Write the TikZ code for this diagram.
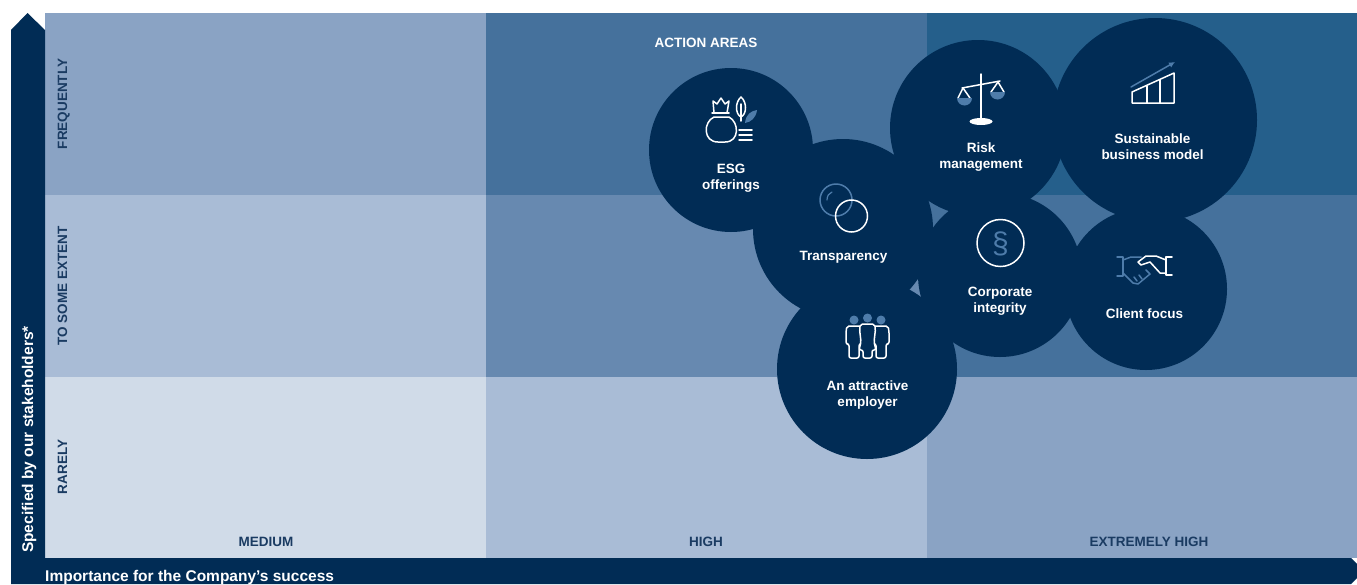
\documentclass[tikz,border=0pt]{standalone}
\usepackage{fontspec}
\usetikzlibrary{arrows.meta}
\setmainfont{Liberation Sans}
\definecolor{navy}{HTML}{012C55}
\definecolor{lblnavy}{HTML}{1A3B62}
\definecolor{accent}{HTML}{4E7CAA}
\definecolor{cA}{HTML}{8AA3C4}
\definecolor{cB}{HTML}{45719C}
\definecolor{cC}{HTML}{255F8B}
\definecolor{cD}{HTML}{A9BCD6}
\definecolor{cE}{HTML}{6789B0}
\definecolor{cF}{HTML}{D0DBE8}
\newcommand\mytwo[2]{\begin{tabular}[t]{@{}c@{}}#1\\#2\end{tabular}}
\begin{document}
\begin{tikzpicture}[x=1pt,y=-1pt,
  bub/.style={circle, fill=navy, draw=none, inner sep=0pt},
  ctext/.style={text=white, font=\fontsize{13.5}{16}\selectfont\bfseries, inner sep=0pt, anchor=base},
  axlbl/.style={text=lblnavy, font=\fontsize{13.5}{16}\selectfont\bfseries, inner sep=0pt, anchor=base},
  axtitle/.style={text=white, font=\fontsize{15.5}{18}\selectfont\bfseries, inner sep=0pt},
  icon/.style={draw=white, line width=1.5pt, line cap=round, line join=round},
  accicon/.style={draw=accent, line width=1.5pt, line cap=round, line join=round}]
\useasboundingbox (0,0) rectangle (1357,584);
\clip (0,0) rectangle (1357,584);
\fill[white] (0,0) rectangle (1357,584);
% grid cells
\fill[cA] (45,13) rectangle (486,195);
\fill[cB] (486,13) rectangle (927,195);
\fill[cC] (927,13) rectangle (1357,195);
\fill[cD] (45,195) rectangle (486,377);
\fill[cE] (486,195) rectangle (927,377);
\fill[cB] (927,195) rectangle (1357,377);
\fill[cF] (45,377) rectangle (486,558);
\fill[cD] (486,377) rectangle (927,558);
\fill[cA] (927,377) rectangle (1357,558);
% axes
\fill[navy] (11,30) -- (27.5,13) -- (45,30) -- (45,558) -- (1351,558) -- (1364,571) -- (1351,584) -- (11,584) -- cycle;
\node[axtitle, rotate=90, anchor=base west] (ytitle) at (33,553) {Specified by our stakeholders*};
\node[axtitle, anchor=base west] (xtitle) at (45,581) {Importance for the Company’s success};
% row / column labels
\node[axlbl, rotate=90] (lfreq) at (67,104) {FREQUENTLY};
\node[axlbl, rotate=90] (lsome) at (67,286) {TO SOME EXTENT};
\node[axlbl, rotate=90] (lrare) at (67,467) {RARELY};
\node[axlbl] (lmed) at (266,546) {MEDIUM};
\node[axlbl] (lhigh) at (706,546) {HIGH};
\node[axlbl] (lext) at (1149,546) {EXTREMELY HIGH};
\node[ctext] (action) at (706,47) {ACTION AREAS};
% bubbles
\node[bub, minimum size=164pt] (esg) at (731,150) {};
\node[bub, minimum size=180pt] (transp) at (843,229) {};
\node[bub, minimum size=180pt] (employer) at (867,369) {};
\node[bub, minimum size=176pt] (risk) at (978,128) {};
\node[bub, minimum size=204pt] (sust) at (1155,120) {};
\node[bub, minimum size=164pt] (corp) at (1000,275) {};
\node[bub, minimum size=162pt] (client) at (1146,289) {};
% bubble texts
\node[ctext] (tesg) at (731,173) {\mytwo{ESG}{offerings}};
\node[ctext] (ttransp) at (843.5,260) {Transparency};
\node[ctext] (trisk) at (981,152) {\mytwo{Risk}{management}};
\node[ctext] (tsust) at (1152.5,143) {\mytwo{Sustainable}{business model}};
\node[ctext] (tcorp) at (1000,296) {\mytwo{Corporate}{integrity}};
\node[ctext] (tclient) at (1144.5,318) {Client focus};
\node[ctext] (temp) at (867.5,390) {\mytwo{An attractive}{employer}};
% ESG icon
\draw[icon] (712,113) -- (729,113);
\draw[icon] (714,113) -- (713,101) -- (717,104) -- (721,98) -- (725,104) -- (729,101) -- (727,113);
\draw[icon] (714,117) .. controls (703,122) and (703,142) .. (718,142) -- (725,142) .. controls (740,142) and (739,122) .. (729,117) -- cycle;
\draw[icon] (741,97) .. controls (735,102) and (735,114) .. (741,117) .. controls (747,114) and (747,102) .. (741,97);
\draw[icon] (741,104) -- (741,121);
\fill[accent] (745,123) .. controls (746,114) and (751,111) .. (757,110) .. controls (756,118) and (751,122) .. (745,123) -- cycle;
\draw[icon] (739,130) -- (752,130);
\draw[icon] (739,135) -- (752,135);
\draw[icon] (739,140) -- (752,140);
% Transparency icon
\draw[accicon] (836,200) circle (16);
\draw[accicon, line width=1.2pt] (827,200) .. controls (827,196) and (829,193) .. (832,192);
\draw[icon] (851.5,216) circle (16);
% Risk icon
\draw[icon] (981,74) -- (981,119);
\draw[icon] (962,88) -- (1000,81);
\draw[icon] (958,98) -- (963,88) -- (970,98);
\draw[icon] (991,92) -- (998,82) -- (1004,92);
\fill[accent] (957,98) -- (972,98) arc[start angle=0, end angle=180, radius=7.5] -- cycle;
\fill[accent] (990,92) -- (1005,92) arc[start angle=0, end angle=180, radius=7.5] -- cycle;
\fill[white] (981,121.5) ellipse[x radius=11.5, y radius=3.5];
% Sustainable icon
\draw[icon] (1132,103) -- (1132,92) -- (1174,73) -- (1174,103) -- cycle;
\draw[icon] (1147,86) -- (1147,103);
\draw[icon] (1160,80) -- (1160,103);
\draw[accicon, -{Latex[length=6pt,width=6pt]}] (1131,87) -- (1175,62);
% Corporate icon
\draw[icon] (1000.5,243) circle (23.5);
\node[text=accent, font=\fontsize{30}{30}\selectfont, inner sep=0pt] (para) at (1000.5,244) {§};
% Client icon
\draw[accicon] (1117,257) -- (1123,257) -- (1123,276) -- (1117,276);
\draw[accicon] (1123,260) -- (1131,257) -- (1141,257);
\draw[accicon] (1123,273) -- (1133,283) -- (1138,284) -- (1150,274) -- (1146,270);
\draw[accicon] (1137,281) -- (1134,277);
\draw[accicon] (1142,279) -- (1139,275);
\draw[icon] (1172,257) -- (1166,257) -- (1166,275) -- (1172,275);
\draw[icon] (1166,260) -- (1156,256) -- (1146,256) -- (1138,262) -- (1141,265) -- (1150,262) -- (1160,273) -- (1166,273);
% Employer icon
\foreach \c/\t in {854/321, 881/321} {
  \draw[icon, fill=navy, rounded corners=2pt] (\c-7,\t+5) -- (\c+7,\t+5) -- (\c+8,\t+10) -- (\c+8,\t+23) -- (\c+5,\t+23) -- (\c+5,358) -- (\c-5,358) -- (\c-5,\t+23) -- (\c-8,\t+23) -- (\c-8,\t+10) -- cycle;
  \fill[accent] (\c,\t-1) circle (4.5);
}
\draw[icon, fill=navy, rounded corners=2pt] (860.5,324) -- (874.5,324) -- (875.5,329) -- (874,342) -- (876,350) -- (872,350) -- (872,358) -- (863,358) -- (863,350) -- (859,350) -- (861,342) -- (859.5,329) -- cycle;
\fill[accent] (867.5,318) circle (4.5);
\end{tikzpicture}
\end{document}
